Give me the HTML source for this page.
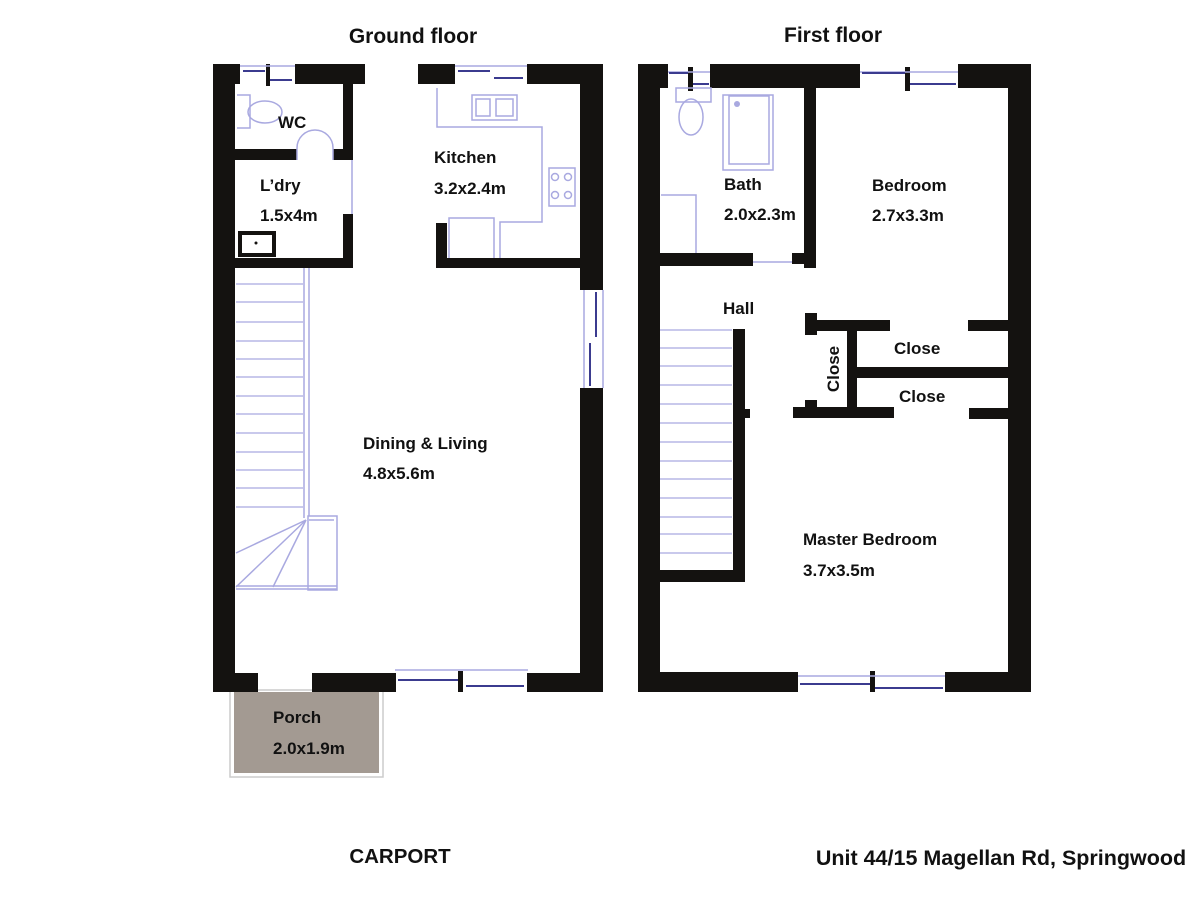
<!DOCTYPE html>
<html><head><meta charset="utf-8"><style>
html,body{margin:0;padding:0;background:#fff;}
svg{display:block;}
text{font-family:"Liberation Sans",Arial,sans-serif;font-weight:bold;fill:#111;}
</style></head><body>
<svg width="1200" height="900" viewBox="0 0 1200 900" xmlns="http://www.w3.org/2000/svg">
<rect width="1200" height="900" fill="#fff"/>
<text x="413" y="43" font-size="21" text-anchor="middle">Ground floor</text>
<text x="833" y="42" font-size="21" text-anchor="middle">First floor</text>
<text x="400" y="863" font-size="20.5" text-anchor="middle">CARPORT</text>
<text x="1001" y="865" font-size="21.5" text-anchor="middle">Unit 44/15 Magellan Rd, Springwood</text>

<!-- Porch -->
<rect x="230" y="690" width="153" height="87" fill="none" stroke="#ccc" stroke-width="1.5"/>
<rect x="234" y="692" width="145" height="81" fill="#a39a92"/>
<text x="273" y="723" font-size="17">Porch</text>
<text x="273" y="754" font-size="17">2.0x1.9m</text>

<g fill="#141210">
<rect x="213" y="64" width="22" height="628"/>
<rect x="580" y="64" width="23" height="226"/>
<rect x="580" y="388" width="23" height="304"/>
<rect x="213" y="64" width="27" height="20"/>
<rect x="295" y="64" width="70" height="20"/>
<rect x="418" y="64" width="37" height="20"/>
<rect x="527" y="64" width="76" height="20"/>
<rect x="213" y="673" width="45" height="19"/>
<rect x="312" y="673" width="84" height="19"/>
<rect x="527" y="673" width="76" height="19"/>
<rect x="458" y="671" width="5" height="21"/>
<rect x="266" y="64" width="4" height="22"/>
<rect x="235" y="149" width="62" height="11"/>
<rect x="333" y="149" width="20" height="11"/>
<rect x="343" y="84" width="10" height="76"/>
<rect x="343" y="214" width="10" height="54"/>
<rect x="235" y="258" width="118" height="10"/>
<rect x="436" y="223" width="11" height="45"/>
<rect x="436" y="258" width="144" height="10"/>

<rect x="638" y="64" width="22" height="628"/>
<rect x="1008" y="64" width="23" height="628"/>
<rect x="638" y="64" width="30" height="24"/>
<rect x="710" y="64" width="150" height="24"/>
<rect x="958" y="64" width="73" height="24"/>
<rect x="688" y="67" width="5" height="24"/>
<rect x="905" y="67" width="5" height="24"/>
<rect x="638" y="672" width="160" height="20"/>
<rect x="945" y="672" width="86" height="20"/>
<rect x="870" y="671" width="5" height="21"/>
<rect x="804" y="88" width="12" height="180"/>
<rect x="660" y="253" width="93" height="13"/>
<rect x="792" y="253" width="14" height="11"/>
<rect x="805" y="320" width="85" height="11"/>
<rect x="805" y="313" width="12" height="22"/>
<rect x="968" y="320" width="40" height="11"/>
<rect x="847" y="331" width="10" height="80"/>
<rect x="857" y="367" width="151" height="11"/>
<rect x="793" y="407" width="101" height="11"/>
<rect x="805" y="400" width="12" height="10"/>
<rect x="969" y="408" width="39" height="11"/>
<rect x="733" y="329" width="12" height="253"/>
<rect x="660" y="570" width="85" height="12"/>
<rect x="745" y="409" width="5" height="9"/>
</g>

<g fill="none" stroke="#a9a9e0" stroke-width="1.5">
<line x1="240" y1="66" x2="295" y2="66"/>
<line x1="455" y1="66" x2="527" y2="66"/>
<line x1="395" y1="670" x2="528" y2="670"/>
<line x1="603" y1="290" x2="603" y2="388"/>
<line x1="584" y1="290" x2="584" y2="388"/>
<path d="M237 95 H250 V128 H237"/>
<ellipse cx="265" cy="112" rx="17" ry="11"/>
<path d="M297 160 V148 A16 16 0 0 1 333 148 V160"/>
<line x1="352" y1="160" x2="352" y2="214"/>
<path d="M437 88 V127 H542 V222 H500 V258"/>
<path d="M449 258 V218 H494 V258"/>
<rect x="472" y="95" width="45" height="25"/>
<rect x="476" y="99" width="14" height="17"/>
<rect x="496" y="99" width="17" height="17"/>
<rect x="549" y="168" width="26" height="38"/>
<circle cx="555" cy="177" r="3.5"/><circle cx="568" cy="177" r="3.5"/>
<circle cx="555" cy="195" r="3.5"/><circle cx="568" cy="195" r="3.5"/>
<line x1="304" y1="268" x2="304" y2="518"/>
<line x1="309" y1="268" x2="309" y2="516"/>
<rect x="308" y="516" width="29" height="74"/>
<line x1="309" y1="520" x2="334" y2="520"/>
<line x1="236" y1="589" x2="337" y2="589"/>
<line x1="236" y1="586" x2="337" y2="586"/>
<line x1="306" y1="520" x2="236" y2="553"/>
<line x1="306" y1="520" x2="236" y2="587"/>
<line x1="306" y1="520" x2="273" y2="587"/>
<line x1="668" y1="72" x2="710" y2="72"/>
<line x1="860" y1="72" x2="958" y2="72"/>
<line x1="798" y1="676" x2="945" y2="676"/>
<rect x="676" y="88" width="35" height="14"/>
<ellipse cx="691" cy="117" rx="12" ry="18"/>
<rect x="723" y="95" width="50" height="75"/>
<rect x="729" y="96" width="40" height="68"/>
<path d="M661 195 H696 V253"/>
<line x1="753" y1="262" x2="792" y2="262"/>
</g>
<g stroke="#3b3b8f" stroke-width="2">
<line x1="243" y1="71" x2="265" y2="71"/><line x1="270" y1="80" x2="292" y2="80"/>
<line x1="458" y1="71" x2="490" y2="71"/><line x1="494" y1="78" x2="523" y2="78"/>
<line x1="398" y1="680" x2="458" y2="680"/><line x1="466" y1="686" x2="524" y2="686"/>
<line x1="596" y1="292" x2="596" y2="337"/><line x1="590" y1="343" x2="590" y2="386"/>
<line x1="669" y1="73" x2="688" y2="73"/><line x1="693" y1="84" x2="709" y2="84"/>
<line x1="862" y1="73" x2="905" y2="73"/><line x1="910" y1="84" x2="956" y2="84"/>
<line x1="800" y1="684" x2="870" y2="684"/><line x1="875" y1="688" x2="943" y2="688"/>
</g>
<g stroke="#a9a9e0" stroke-width="1.3">
<line x1="236" y1="284" x2="303" y2="284"/><line x1="236" y1="302" x2="303" y2="302"/>
<line x1="236" y1="322" x2="303" y2="322"/><line x1="236" y1="341" x2="303" y2="341"/>
<line x1="236" y1="359" x2="303" y2="359"/><line x1="236" y1="377" x2="303" y2="377"/>
<line x1="236" y1="396" x2="303" y2="396"/><line x1="236" y1="414" x2="303" y2="414"/>
<line x1="236" y1="433" x2="303" y2="433"/><line x1="236" y1="452" x2="303" y2="452"/>
<line x1="236" y1="470" x2="303" y2="470"/><line x1="236" y1="488" x2="303" y2="488"/>
<line x1="236" y1="507" x2="303" y2="507"/>
<line x1="660" y1="330" x2="732" y2="330"/><line x1="660" y1="348" x2="732" y2="348"/>
<line x1="660" y1="366" x2="732" y2="366"/><line x1="660" y1="385" x2="732" y2="385"/>
<line x1="660" y1="404" x2="732" y2="404"/><line x1="660" y1="423" x2="732" y2="423"/>
<line x1="660" y1="442" x2="732" y2="442"/><line x1="660" y1="461" x2="732" y2="461"/>
<line x1="660" y1="479" x2="732" y2="479"/><line x1="660" y1="498" x2="732" y2="498"/>
<line x1="660" y1="517" x2="732" y2="517"/><line x1="660" y1="534" x2="732" y2="534"/>
<line x1="660" y1="553" x2="732" y2="553"/>
</g>
<rect x="238" y="231" width="38" height="26" fill="#141210"/>
<rect x="242" y="235" width="30" height="18" fill="#fff"/>
<circle cx="256" cy="243" r="1.5" fill="#141210"/>
<circle cx="737" cy="104" r="3" fill="#a9a9e0"/>

<g font-size="17">
<text x="278" y="128">WC</text>
<text x="260" y="191">L’dry</text>
<text x="260" y="221">1.5x4m</text>
<text x="434" y="163">Kitchen</text>
<text x="434" y="194">3.2x2.4m</text>
<text x="363" y="449">Dining &amp; Living</text>
<text x="363" y="479">4.8x5.6m</text>
<text x="724" y="190">Bath</text>
<text x="724" y="220">2.0x2.3m</text>
<text x="872" y="191">Bedroom</text>
<text x="872" y="221">2.7x3.3m</text>
<text x="723" y="314">Hall</text>
<text x="894" y="354">Close</text>
<text x="899" y="402">Close</text>
<text x="833" y="369" text-anchor="middle" transform="rotate(-90 833 369)" dy="6">Close</text>
<text x="803" y="545">Master Bedroom</text>
<text x="803" y="576">3.7x3.5m</text>
</g>
</svg>
</body></html>
